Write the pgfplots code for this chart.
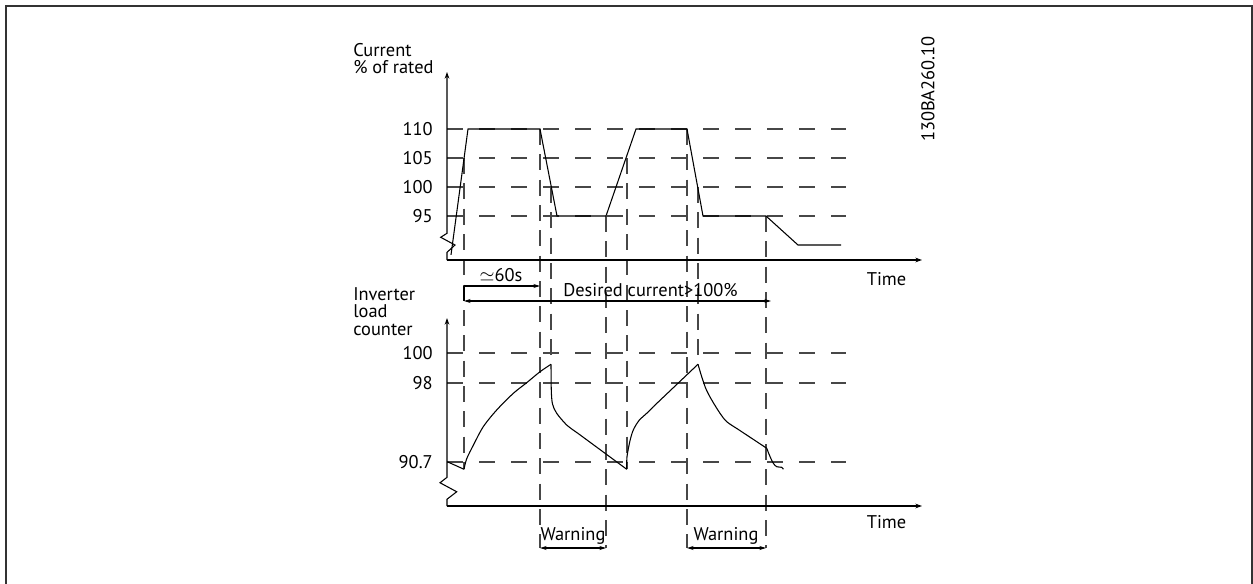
\documentclass[border=0pt]{standalone}
\usepackage{pgfplots}
\pgfplotsset{compat=1.18}
\usepackage{fontspec}
\setmainfont{PT Sans}
\usetikzlibrary{arrows.meta}
\definecolor{dashgray}{gray}{0.28}
\pgfplotsset{
  schem/.style={
    anchor=south west, x=0.75pt, xmin=0, xmax=475,
    axis lines=left, axis line style={draw=none},
    xtick=\empty, major tick length=0pt,
    tick style={draw=none},
    /pgf/number format/assume math mode=true,
    yticklabel style={anchor=east, inner sep=0pt, xshift=-10.5pt, font=\fontsize{13.8}{16}\selectfont},
    clip=false,
  },
}
\tikzset{
  gridd/.style={dashgray, line width=0.85pt, dash pattern=on 12pt off 12pt},
  vdash/.style={dashgray, line width=0.85pt, dash pattern=on 12pt off 7pt},
  curve/.style={black, line width=0.8pt, mark=none},
  axl/.style={black, line width=0.8pt},
  tip/.style={-{Stealth[length=5pt,width=3.5pt]}},
}
\begin{document}
\begin{tikzpicture}[font=\fontsize{13.8}{16}\selectfont]
\useasboundingbox (0,0) rectangle (939.75pt,437.25pt);
% ---------------- top axis: current ----------------
\begin{axis}[schem, at={(335.25pt,242.25pt)}, y=4.35pt, ymin=87.414, ymax=119.83, ytick={95,100,105,110}]
\draw[gridd] (axis cs:0,110) -- (axis cs:399,110);
\draw[gridd] (axis cs:0,105) -- (axis cs:399,105);
\draw[gridd] (axis cs:0,100) -- (axis cs:399,100);
\draw[gridd] (axis cs:0,95) -- (axis cs:399,95);
\draw[vdash] (axis cs:17,105) -- (axis cs:17,51.38);
\draw[vdash] (axis cs:93,110) -- (axis cs:93,37.76);
\draw[vdash] (axis cs:104,100) -- (axis cs:104,69.48);
\draw[vdash] (axis cs:159,95) -- (axis cs:159,37.76);
\draw[vdash] (axis cs:180,105) -- (axis cs:180,51.38);
\draw[vdash] (axis cs:240,110) -- (axis cs:240,37.76);
\draw[vdash] (axis cs:251,100) -- (axis cs:251,69.48);
\draw[vdash] (axis cs:319,95) -- (axis cs:319,37.76);
\addplot[curve] coordinates {(4,88.3) (21,110) (93,110) (110,95) (159,95) (189,110) (240,110) (256,95) (319,95) (351,90) (394,90)};
\draw[axl,tip] (axis cs:0,87.414) -- (axis cs:0,88.74) -- (axis cs:8,90) -- (axis cs:-6.3,91.33) -- (axis cs:0,92.02) -- (axis cs:0,119.83);
\draw[axl,tip] (axis cs:0,87.414) -- (axis cs:475,87.414);
\end{axis}
% ---------------- bottom axis: inverter load counter ----------------
\begin{axis}[schem, at={(335.25pt,57.75pt)}, y=11.25pt, ymin=89.8, ymax=102.33, ytick={92.733,98,100}, yticklabels={90.7,98,100}]
\draw[gridd] (axis cs:0,100) -- (axis cs:399,100);
\draw[gridd] (axis cs:0,98) -- (axis cs:399,98);
\draw[gridd] (axis cs:0,92.733) -- (axis cs:399,92.733);
\addplot[curve] coordinates {(0.3,92.75) (17,92.25)};
\addplot[curve, smooth] coordinates {(17,92.25) (19.7,92.95) (26.3,93.85) (36.3,95.09) (49.7,96.2) (66.3,97.31) (79.7,98.02) (93,98.75) (104,99.25)};
\addplot[curve, smooth] coordinates {(104,99.25) (104.3,97.5) (105.5,96.6) (109.7,95.98) (119.7,95.2) (130,94.69)};
\addplot[curve] coordinates {(130,94.69) (179.7,92.25)};
\addplot[curve, smooth] coordinates {(179.7,92.25) (180,93.09) (183,94.15) (186.3,94.87) (192,95.5) (199.7,95.98) (206.3,96.42)};
\addplot[curve] coordinates {(206.3,96.42) (251,99.25)};
\addplot[curve, smooth] coordinates {(251,99.25) (254.7,98.42) (259,97.6) (264.7,96.87) (273,95.98) (279.7,95.42) (290,94.96)};
\addplot[curve] coordinates {(290,94.96) (319.7,93.65)};
\addplot[curve, smooth] coordinates {(319.7,93.65) (323,93.1) (326.3,92.65) (329.7,92.42) (334.7,92.38) (336.3,92.25)};
\draw[axl,tip] (axis cs:0,89.8) -- (axis cs:0,90.25) -- (axis cs:9.7,90.75) -- (axis cs:-7,91.35) -- (axis cs:0,91.71) -- (axis cs:0,102.33);
\draw[axl,tip] (axis cs:0,89.8) -- (axis cs:475,89.8);
\end{axis}
% ---------------- annotations (pixel coordinates) ----------------
\begin{scope}[x=0.75pt,y=-0.75pt,yshift=437.25pt]
 \draw[line width=1.5pt, black!80] (5.5,620) -- (5.5,6.5) -- (1251.5,6.5) -- (1251.5,620);
 \node[anchor=base west, inner sep=0pt] at (353,57) {Current};
 \node[anchor=base west, inner sep=0pt] at (353,73.5) {\% of rated};
 \node[anchor=base west, inner sep=0pt] at (353,300) {Inverter};
 \node[anchor=base west, inner sep=0pt] at (353,317) {load};
 \node[anchor=base west, inner sep=0pt] at (353,335) {counter};
 \node[anchor=base, inner sep=0pt] at (886.5,285) {Time};
 \node[anchor=base, inner sep=0pt] at (886.5,528) {Time};
 \node[rotate=90, inner sep=0pt] at (928,89) {130BA260.10};
 \node[anchor=base, inner sep=0pt] at (501,282) {$\simeq$60s};
 \draw[axl, -{Stealth[length=5pt,width=3pt]}] (464,286) -- (540,286);
 \draw[axl] (464,286) -- (464,301);
 \node[anchor=base west, inner sep=0pt] at (563,296.7) {Desired current>100\%};
 \draw[axl, {Stealth[length=5pt,width=3pt]}-{Stealth[length=5pt,width=3pt]}] (464,301) -- (771,301);
 \node[anchor=base, inner sep=0pt] at (573,540) {Warning};
 \node[anchor=base, inner sep=0pt] at (726,540) {Warning};
 \draw[axl, {Stealth[length=5pt,width=3pt]}-{Stealth[length=5pt,width=3pt]}] (540,548) -- (606,548);
 \draw[axl, {Stealth[length=5pt,width=3pt]}-{Stealth[length=5pt,width=3pt]}] (687,548) -- (766,548);
\end{scope}
\end{tikzpicture}
\end{document}
